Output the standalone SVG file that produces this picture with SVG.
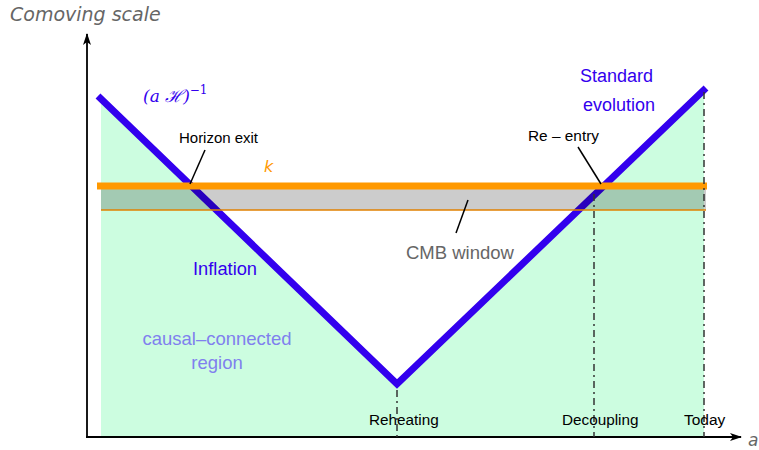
<svg xmlns="http://www.w3.org/2000/svg" width="759" height="450" viewBox="0 0 759 450">
<defs>
<marker id="arr" markerWidth="12" markerHeight="8" refX="11" refY="4" orient="auto" markerUnits="userSpaceOnUse">
<path d="M0,0 L12,4 L0,8 L3,4 Z" fill="#000"/>
</marker>
<style>
.lbl{font-family:"Liberation Sans",Arial,sans-serif;}
.hand{font-family:"DejaVu Sans",sans-serif;font-style:italic;fill:#666;}
.blue{fill:#3300ee;}
.dash{stroke:#333;stroke-width:1.5;stroke-dasharray:7,4,2,4;fill:none;}
.lead{stroke:#000;stroke-width:1.5;fill:none;}
</style>
</defs>
<rect width="759" height="450" fill="#fff"/>
<g id="region">
<polygon points="101,99 397,384 704,91 704,437 101,437" fill="#ccfde0"/>
</g>
<g id="curve">
<polyline points="98,96 397,384 706,88" fill="none" stroke="#3300ee" stroke-width="7" stroke-linejoin="miter"/>
</g>
<g id="cmb-window">
<rect x="101" y="189" width="605" height="21" fill="#000" fill-opacity="0.2"/>
<line x1="101" y1="210" x2="706" y2="210" stroke="#e08000" stroke-width="1.5"/>
<line x1="97" y1="186" x2="707" y2="186" stroke="#ff9900" stroke-width="7"/>
</g>
<g id="connectors">
<line x1="87" y1="438" x2="87" y2="34" stroke="#000" stroke-width="1.8" marker-end="url(#arr)"/>
<line x1="86" y1="437" x2="741" y2="437" stroke="#000" stroke-width="1.8" marker-end="url(#arr)"/>
<line class="dash" x1="397" y1="390" x2="397" y2="437"/>
<line class="dash" x1="594" y1="194" x2="594" y2="437"/>
<line class="dash" x1="704" y1="92" x2="704" y2="437"/>
<line class="lead" x1="205" y1="150" x2="190" y2="184"/>
<line class="lead" x1="578" y1="147" x2="601" y2="184"/>
<line class="lead" x1="468" y1="200" x2="456" y2="233"/>
</g>
<g id="labels">
<text class="hand" x="10" y="21" font-size="19">Comoving scale</text>
<text class="hand" x="748" y="446" font-size="17">a</text>
<text x="143" y="102" font-family="DejaVu Serif,serif" font-style="italic" font-size="17" class="blue">(a ℋ)<tspan dy="-8" font-size="12" font-style="normal">−1</tspan></text>
<text class="lbl" x="179" y="143" font-size="15" fill="#000" textLength="79">Horizon exit</text>
<text x="264" y="172" font-family="DejaVu Sans,sans-serif" font-style="italic" font-size="16" fill="#ff9900">k</text>
<text class="lbl" x="528" y="141" font-size="15.4" fill="#000">Re – entry</text>
<text class="lbl blue" x="580" y="82" font-size="18">Standard</text>
<text class="lbl blue" x="583" y="111" font-size="18">evolution</text>
<text class="lbl" x="406" y="259" font-size="18.5" fill="#666">CMB window</text>
<text class="lbl blue" x="193" y="275" font-size="18.3">Inflation</text>
<text class="lbl" x="217" y="345" font-size="18.5" fill="#8080ee" text-anchor="middle">causal–connected</text>
<text class="lbl" x="217" y="369" font-size="18.5" fill="#8080ee" text-anchor="middle">region</text>
<text class="lbl" x="369" y="425" font-size="15.3" fill="#000">Reheating</text>
<text class="lbl" x="562" y="425" font-size="15.3" fill="#000">Decoupling</text>
<text class="lbl" x="684" y="425" font-size="15.5" fill="#000">Today</text>
</g>
</svg>
